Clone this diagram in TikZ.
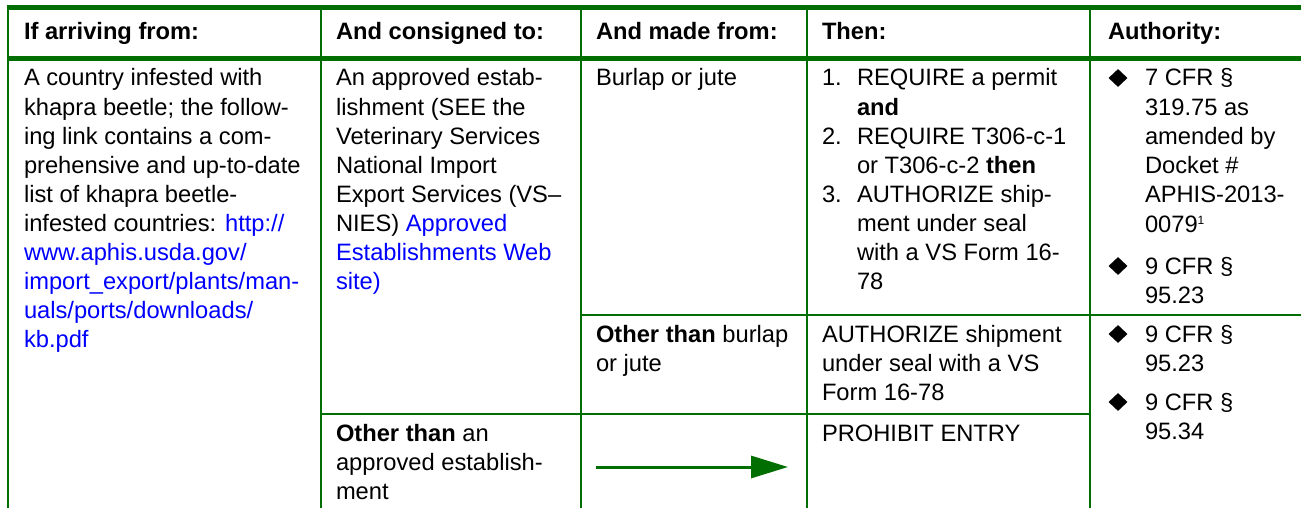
\documentclass[tikz,border=0pt]{standalone}
\usepackage{fontspec}
\setmainfont{Liberation Sans}
\usetikzlibrary{arrows.meta,shapes.geometric}
\definecolor{tgreen}{RGB}{0,110,0}
\definecolor{linkblue}{RGB}{0,0,255}
\newcommand\bodyfont{\fontsize{23.7}{29.1}\selectfont}
\tikzset{
  txt/.style={anchor=base west, inner sep=0pt, outer sep=0pt},
  hdr/.style={txt, font=\bodyfont\bfseries},
  lnk/.style={txt, text=linkblue},
  rulethin/.style={draw=tgreen, line width=1.3pt},
  rulethick/.style={draw=tgreen, line width=5pt},
  bul/.style={diamond, fill=black, minimum width=19pt, minimum height=18pt, inner sep=0pt},
  arr/.style={draw=tgreen, line width=3pt, -{Triangle[length=37pt,width=22pt]}}
}
\begin{document}
\begin{tikzpicture}[x=1pt,y=-1pt,font=\bodyfont]
\useasboundingbox (0,0) rectangle (1301,508);
% rules
\foreach \xx in {8,321,581,807,1090} { \draw[rulethin] (\xx,7.5) -- (\xx,508); }
\draw[rulethick] (7.35,7.5) -- (1301,7.5);
\draw[rulethick] (7.35,58.5) -- (1301,58.5);
\draw[rulethin] (581,315) -- (1301,315);
\draw[rulethin] (321,414) -- (1090,414);
% header
\node[hdr] (h1) at (24,40) {If arriving from:};
\node[hdr] (h2) at (336,40) {And consigned to:};
\node[hdr] (h3) at (596,40) {And made from:};
\node[hdr] (h4) at (822,40) {Then:};
\node[hdr] (h5) at (1108,40) {Authority:};
% column 1
\node[txt] (a0) at (24,86) {A country infested with};
\node[txt] (a1) at (24,115.1) {khapra beetle; the follow-};
\node[txt] (a2) at (24,144.2) {ing link contains a com-};
\node[txt] (a3) at (24,173.3) {prehensive and up-to-date};
\node[txt] (a4) at (24,202.4) {list of khapra beetle-};
\node[txt] (a5) at (24,231.5) {infested countries: \textcolor{linkblue}{http://}};
\node[lnk] (a6) at (24,260.6) {www.aphis.usda.gov/};
\node[lnk] (a7) at (24,289.7) {import\_export/plants/man-};
\node[lnk] (a8) at (24,318.8) {uals/ports/downloads/};
\node[lnk] (a9) at (24,347.9) {kb.pdf};
% column 2
\node[txt] (b0) at (336,86) {An approved estab-};
\node[txt] (b1) at (336,115.1) {lishment (SEE the};
\node[txt] (b2) at (336,144.2) {Veterinary Services};
\node[txt] (b3) at (336,173.3) {National Import};
\node[txt] (b4) at (336,202.4) {Export Services (VS–};
\node[txt] (b5) at (336,231.5) {NIES) \textcolor{linkblue}{Approved}};
\node[lnk] (b6) at (336,260.6) {Establishments Web};
\node[lnk] (b7) at (336,289.7) {site)};
\node[txt] (b8) at (336,441) {\textbf{Other than} an};
\node[txt] (b9) at (336,470) {approved establish-};
\node[txt] (b10) at (336,499) {ment};
% column 3
\node[txt] (c0) at (596,86) {Burlap or jute};
\node[txt] (c1) at (596,342) {\textbf{Other than} burlap};
\node[txt] (c2) at (596,371) {or jute};
\coordinate (arS) at (596,467);
\coordinate (arE) at (788,467);
\draw[arr] (arS) -- (arE);
% column 4
\node[txt] (n1) at (822,86) {1.};
\node[txt] (d0) at (857,86) {REQUIRE a permit};
\node[txt] (d1) at (857,115.1) {\textbf{and}};
\node[txt] (n2) at (822,144.2) {2.};
\node[txt] (d2) at (857,144.2) {REQUIRE T306-c-1};
\node[txt] (d3) at (857,173.3) {or T306-c-2 \textbf{then}};
\node[txt] (n3) at (822,202.4) {3.};
\node[txt] (d4) at (857,202.4) {AUTHORIZE ship-};
\node[txt] (d5) at (857,231.5) {ment under seal};
\node[txt] (d6) at (857,260.6) {with a VS Form 16-};
\node[txt] (d7) at (857,289.7) {78};
\node[txt] (e0) at (822,342) {AUTHORIZE shipment};
\node[txt] (e1) at (822,371) {under seal with a VS};
\node[txt] (e2) at (822,400) {Form 16-78};
\node[txt] (e3) at (822,441) {PROHIBIT ENTRY};
% column 5
\node[bul] (p1) at (1118,78) {};
\node[txt] (f0) at (1145,86) {7 CFR §};
\node[txt] (f1) at (1145,115.1) {319.75 as};
\node[txt] (f2) at (1145,144.2) {amended by};
\node[txt] (f3) at (1145,173.3) {Docket \#};
\node[txt] (f4) at (1145,202.4) {APHIS-2013-};
\node[txt] (f5) at (1145,232.5) {0079\raisebox{8.4pt}{\fontsize{12}{12}\selectfont 1}};
\node[bul] (p2) at (1118,266) {};
\node[txt] (f6) at (1145,274) {9 CFR §};
\node[txt] (f7) at (1145,303) {95.23};
\node[bul] (p3) at (1118,334) {};
\node[txt] (g0) at (1145,342) {9 CFR §};
\node[txt] (g1) at (1145,371) {95.23};
\node[bul] (p4) at (1118,402) {};
\node[txt] (g2) at (1145,410) {9 CFR §};
\node[txt] (g3) at (1145,439) {95.34};
\end{tikzpicture}
\end{document}
